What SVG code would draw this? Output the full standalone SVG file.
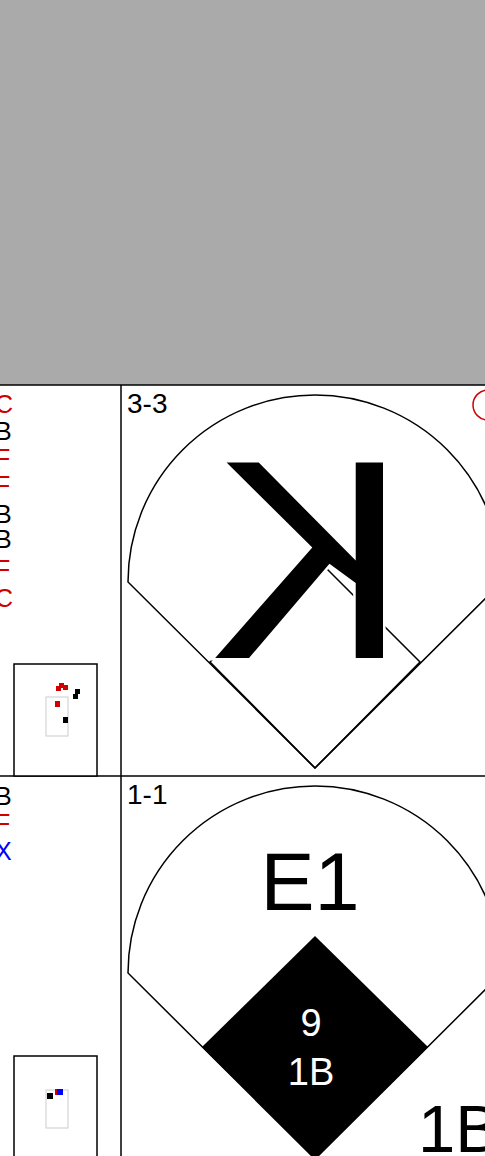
<svg xmlns="http://www.w3.org/2000/svg" width="485" height="1156" viewBox="0 0 485 1156">
<style>
text{font-family:"Liberation Sans",Arial,sans-serif}
.grid{stroke:#000;stroke-width:1.5;fill:none}
.field{stroke:#000;stroke-width:1.5;fill:#fff}
.inf{stroke:#000;stroke-width:1.5;fill:none}
.pl{font-size:25px}
.r{fill:#d00000}
.k{fill:#000}
.b{fill:#0000ff}
.cnt{font-size:28px;fill:#000}
.zone{fill:#fff;stroke:#000;stroke-width:1.5}
.sz{fill:#fff;stroke:#d4d4d4;stroke-width:1.2}
</style>
<rect x="0" y="0" width="485" height="385" fill="#aaaaaa"/>
<g id="grid">
<line class="grid" x1="0" y1="385" x2="485" y2="385"/>
<line class="grid" x1="0" y1="776" x2="485" y2="776"/>
<line class="grid" x1="121" y1="385" x2="121" y2="1156"/>
</g>
<g id="pitches-1">
<text class="pl r" x="-5" y="413">C</text>
<text class="pl k" x="-5" y="440">B</text>
<text class="pl r" x="-5" y="467">F</text>
<text class="pl r" x="-5" y="494">F</text>
<text class="pl k" x="-5" y="523">B</text>
<text class="pl k" x="-5" y="548">B</text>
<text class="pl r" x="-5" y="578">F</text>
<text class="pl r" x="-5" y="607">C</text>
</g>
<g id="zone-1">
<rect class="zone" x="14" y="664" width="83" height="112"/>
<rect class="sz" x="46" y="697" width="22" height="39"/>
<rect x="55" y="701" width="5" height="6" fill="#d00000"/>
<rect x="56" y="686" width="5" height="5" fill="#d00000"/>
<rect x="59" y="683" width="5" height="5" fill="#d00000"/>
<rect x="63" y="685" width="5" height="5" fill="#d00000"/>
<rect x="75" y="689" width="5" height="5" fill="#000"/>
<rect x="73" y="694" width="5" height="5" fill="#000"/>
<rect x="63" y="717" width="5" height="6" fill="#000"/>
</g>
<g id="ab-1">
<path class="field" d="M128,582 A187,187 0 0 1 502,582 L315,768 Z"/>
<polygon class="inf" points="315,557 420,662 315,768 210,662"/>
<text class="cnt" x="127" y="413">3-3</text>
<circle cx="488" cy="405" r="15" fill="none" stroke="#d00000" stroke-width="1.5"/>
<text transform="translate(407,658) scale(-1.03,1)" x="0" y="0" font-size="284" fill="#000" stroke="#fff" stroke-width="5" paint-order="stroke">K</text>
</g>
<g id="pitches-2">
<text class="pl k" x="-5" y="805">B</text>
<text class="pl r" x="-5" y="832">F</text>
<text class="pl b" x="-5" y="860">X</text>
</g>
<g id="zone-2">
<rect class="zone" x="14" y="1056" width="83" height="110"/>
<rect class="sz" x="46" y="1090" width="22" height="38"/>
<rect x="47" y="1093" width="6" height="6" fill="#000"/>
<rect x="55" y="1089" width="5" height="6" fill="#d00000"/>
<rect x="57" y="1089" width="6" height="6" fill="#0000ff"/>
</g>
<g id="ab-2">
<path class="field" d="M128,973 A187,187 0 0 1 502,973 L315,1159 Z"/>
<polygon points="315,936 428,1047 315,1159 202,1047" fill="#000"/>
<text class="cnt" x="127" y="804">1-1</text>
<text x="310" y="910" font-size="81" text-anchor="middle" fill="#000">E1</text>
<text x="311" y="1036" font-size="38" text-anchor="middle" fill="#fff">9</text>
<text x="311" y="1085" font-size="38" text-anchor="middle" fill="#fff">1B</text>
<text x="418" y="1152" font-size="67" fill="#000">1B</text>
</g>
</svg>
